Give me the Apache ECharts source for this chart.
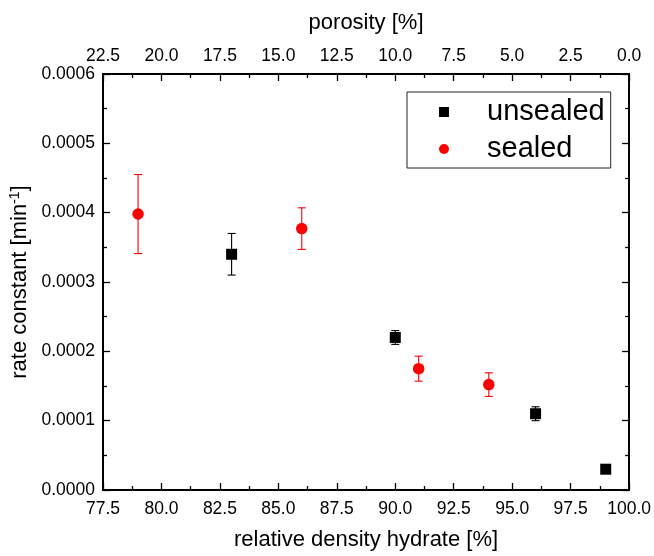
<!DOCTYPE html>
<html><head><meta charset="utf-8">
<script src="https://cdn.jsdelivr.net/npm/echarts@6/dist/echarts.min.js"></script>
<style>html,body{margin:0;padding:0;background:#fff}#c{width:654px;height:556px}</style>
</head><body><div id="c"></div>
<script>
const unsealedX = [83, 90, 96, 99];
const unsealedY = [0.00034, 0.00022, 0.00011, 0.00003];
const unsealedErr = [0.00003, 0.00001, 0.00001, 0.000003];
const sealedX = [79, 86, 91, 94];
const sealedY = [0.000398, 0.000377, 0.000175, 0.000152];
const sealedErr = [0.000057, 0.00003, 0.000018, 0.000017];
const xTitle = 'relative density hydrate [%]';
const x2Title = 'porosity [%]';

const FONT = 'Liberation Sans, Arial, sans-serif';
function pts(xs, ys){ return xs.map((x,i)=>[x, ys[i]]); }
function errData(xs, ys, es){ return xs.map((x,i)=>[x, ys[i]-es[i], ys[i]+es[i]]); }
function errSeries(data, color){
  return {
    type:'custom', xAxisIndex:0, yAxisIndex:0, silent:true, z:1,
    data: data,
    renderItem: function(params, api){
      const lo = api.coord([api.value(0), api.value(1)]);
      const hi = api.coord([api.value(0), api.value(2)]);
      const hw = 4;
      const st = {stroke:color, lineWidth:1.1};
      return {type:'group', children:[
        {type:'line', shape:{x1:lo[0],y1:lo[1],x2:hi[0],y2:hi[1]}, style:st},
        {type:'line', shape:{x1:lo[0]-hw,y1:lo[1],x2:lo[0]+hw,y2:lo[1]}, style:st},
        {type:'line', shape:{x1:hi[0]-hw,y1:hi[1],x2:hi[0]+hw,y2:hi[1]}, style:st}
      ]};
    }
  };
}
const axisLine = {show:true, onZero:false, lineStyle:{color:'#000', width:1.8}};
const tick = {show:true, inside:true, length:7, lineStyle:{color:'#000', width:1.3}};
const minor = {show:true, splitNumber:2, length:4, lineStyle:{color:'#000', width:1.3}};
const chart = echarts.init(document.getElementById('c'));
chart.setOption({
  animation:false,
  backgroundColor:'#fff',
  grid:{left:103, top:74, right:24, bottom:61, show:true, borderColor:'#000', borderWidth:1.8, backgroundColor:'transparent'},
  xAxis:[{
    type:'value', min:77.5, max:100, interval:2.5, position:'bottom',
    name:xTitle, nameLocation:'middle', nameGap:39,
    nameTextStyle:{fontFamily:FONT, fontSize:22, color:'#000'},
    axisLine:axisLine, axisTick:tick, minorTick:minor,
    axisLabel:{fontFamily:FONT, fontSize:17.5, color:'#000', margin:10, formatter:v=>v.toFixed(1)},
    splitLine:{show:false}
  },{
    type:'value', min:0, max:22.5, interval:2.5, position:'top', inverse:true,
    name:x2Title, nameLocation:'middle', nameGap:40,
    nameTextStyle:{fontFamily:FONT, fontSize:22, color:'#000'},
    axisLine:axisLine, axisTick:tick, minorTick:minor,
    axisLabel:{fontFamily:FONT, fontSize:17.5, color:'#000', margin:9, formatter:v=>v.toFixed(1)},
    splitLine:{show:false}
  }],
  yAxis:[{
    type:'value', min:0, max:0.0006, interval:0.0001, position:'left',
    name:'rate constant [min{sup|-1}]', nameLocation:'middle', nameGap:61, nameRotate:90,
    nameTextStyle:{fontFamily:FONT, fontSize:22, color:'#000',
      rich:{sup:{fontFamily:FONT, fontSize:14, color:'#000', verticalAlign:'top', padding:[0,0,9,0]}}},
    axisLine:axisLine, axisTick:tick, minorTick:minor,
    axisLabel:{fontFamily:FONT, fontSize:17.5, color:'#000', margin:8, formatter:v=>v.toFixed(4)},
    splitLine:{show:false}
  },{
    type:'value', min:0, max:0.0006, interval:0.0001, position:'right',
    axisLine:axisLine, axisTick:tick, minorTick:minor,
    axisLabel:{show:false}, splitLine:{show:false}
  }],
  legend:{
    left:407, top:92, orient:'vertical',
    padding:[5.5,6,4.5,32], itemGap:8, itemWidth:10, itemHeight:10,
    backgroundColor:'#fff', borderColor:'#222', borderWidth:1, borderRadius:0,
    textStyle:{fontFamily:FONT, fontSize:29, color:'#000', padding:[0,0,0,33]},
    data:[{name:'unsealed', icon:'rect'},{name:'sealed', icon:'circle'}]
  },
  series:[
    errSeries(errData(unsealedX, unsealedY, unsealedErr), '#000'),
    errSeries(errData(sealedX, sealedY, sealedErr), '#ff0000'),
    {name:'unsealed', type:'scatter', symbol:'rect', symbolSize:11, z:3,
     itemStyle:{color:'#000', opacity:1}, data:pts(unsealedX, unsealedY)},
    {name:'sealed', type:'scatter', symbol:'circle', symbolSize:11.5, z:3,
     itemStyle:{color:'#ff0000', opacity:1}, data:pts(sealedX, sealedY)}
  ]
});
</script></body></html>
